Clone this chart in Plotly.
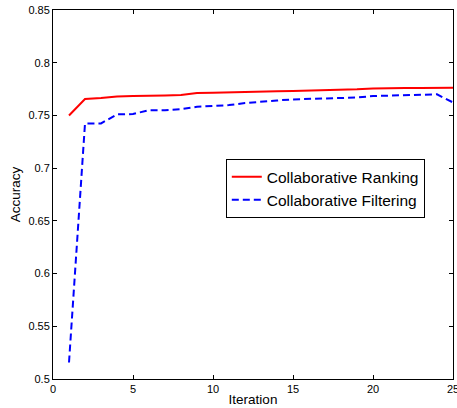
import plotly.graph_objects as go

iterations = list(range(1, 26))
ranking = [0.750, 0.7655, 0.7665, 0.768, 0.7684, 0.7684, 0.769, 0.7693, 0.7712, 0.7715,
           0.772, 0.7718, 0.7728, 0.773, 0.7732, 0.7735, 0.7737, 0.7746, 0.7748, 0.7756,
           0.776, 0.776, 0.776, 0.776, 0.7762]
filtering = [0.5157, 0.7424, 0.7424, 0.751, 0.7513, 0.755, 0.755, 0.756, 0.7582, 0.7589,
             0.7598, 0.7617, 0.7633, 0.7642, 0.7652, 0.7655, 0.7658, 0.7668, 0.767, 0.7684,
             0.7687, 0.7696, 0.770, 0.770, 0.7623]
x_ticks = [0, 5, 10, 15, 20, 25]
y_ticks = [0.5, 0.55, 0.6, 0.65, 0.7, 0.75, 0.8, 0.85]
y_tick_text = ["0.5", "0.55", "0.6", "0.65", "0.7", "0.75", "0.8", "0.85"]

FONT = "Liberation Sans, Arial, Helvetica, sans-serif"

fig = go.Figure()
fig.add_trace(go.Scatter(x=iterations, y=ranking, mode="lines",
                         name="Collaborative Ranking",
                         line=dict(color="#ff0000", width=2)))
fig.add_trace(go.Scatter(x=iterations, y=filtering, mode="lines",
                         name="Collaborative Filtering",
                         line=dict(color="#0000ff", width=2, dash="7px,4px")))

axis_common = dict(showline=True, linecolor="black", linewidth=1, mirror="ticks",
                   ticks="inside", ticklen=4, tickcolor="black", showgrid=False,
                   zeroline=False, automargin=False, ticklabeloverflow="allow",
                   tickfont=dict(family=FONT, size=11, color="black"))

fig.update_layout(
    width=457, height=408,
    margin=dict(l=53, r=4, t=10, b=29),
    paper_bgcolor="white", plot_bgcolor="white",
    font=dict(family=FONT, color="black"),
    showlegend=True,
    legend=dict(x=0.432, y=0.596, xanchor="left", yanchor="top",
                bgcolor="white", bordercolor="black", borderwidth=1,
                font=dict(family=FONT, size=15.5, color="black"),
                tracegroupgap=0),
    xaxis=dict(range=[0, 25], tickvals=x_ticks, ticktext=[str(t) for t in x_ticks],
               title=dict(text="Iteration", font=dict(family=FONT, size=13.5), standoff=0),
               **axis_common),
    yaxis=dict(range=[0.5, 0.85], tickvals=y_ticks, ticktext=y_tick_text,
               title=dict(text="Accuracy", font=dict(family=FONT, size=13.5), standoff=4),
               **axis_common),
)

fig.write_html("out.html", config={"displayModeBar": False},
               post_script="document.body.style.margin='0';document.body.style.overflow='hidden';")
